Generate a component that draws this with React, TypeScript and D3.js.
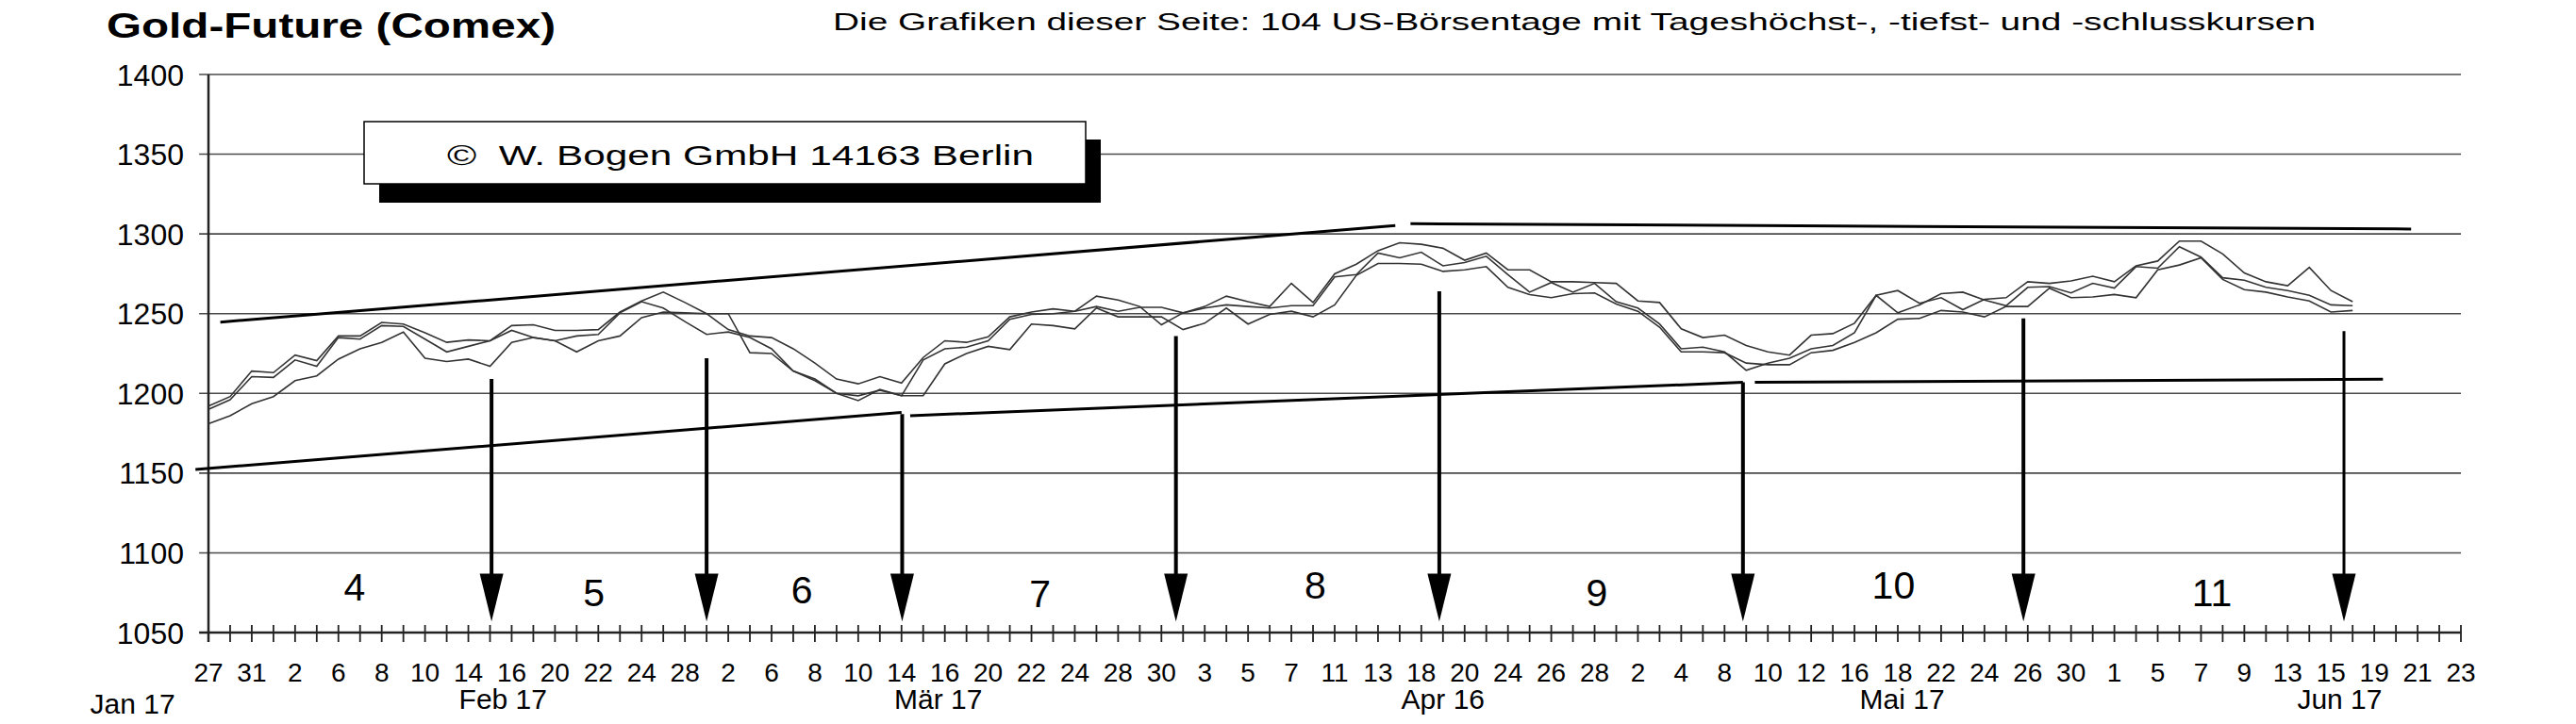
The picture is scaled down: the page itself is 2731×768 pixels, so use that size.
import React from 'react';
import * as d3 from 'd3';

const W = 2731;
const H = 768;

// trading-day index 0..104 (Jan 27 .. Jun 23, 2017)
const dayCount = 105;
const dayLabels = ["27","31","2","6","8","10","14","16","20","22","24","28","2","6","8","10","14","16","20","22","24","28","30","3","5","7","11","13","18","20","24","26","28","2","4","8","10","12","16","18","22","24","26","30","1","5","7","9","13","15","19","21","23"];
const yTicks = [1050, 1100, 1150, 1200, 1250, 1300, 1350, 1400];
const monthLabels = ["Jan 17", "Feb 17", "Mär 17", "Apr 16", "Mai 17", "Jun 17"];
const monthPos = [-3.5, 13.6, 33.7, 57, 78.2, 98.4];

const line1 = [1192,1198,1214,1213,1224,1220.5,1236,1236,1244.5,1243.5,1238,1232,1233.5,1233,1242.5,1243,1239.5,1239.5,1240,1251,1258,1263.5,1257,1250,1240,1236,1235,1228,1219,1209,1206,1210.5,1206.5,1222.5,1233,1232,1235.5,1248,1251,1253,1251.5,1261,1258.5,1254.5,1243,1250.5,1254.5,1261,1257.5,1254.5,1269,1257,1275,1281,1289.5,1294.5,1293.5,1291,1283.5,1288,1277.5,1277.5,1270,1270,1269.5,1269,1258,1257,1240.5,1235,1236.5,1230,1226,1224,1236.5,1237.5,1244,1261.5,1264.5,1256.5,1260,1252.5,1259,1260,1270,1269,1270.5,1273.5,1270,1280,1283,1295.5,1295.5,1287.5,1275.5,1270,1267.5,1279,1264.5,1257.5];
const line2 = [1190,1196,1210.5,1210,1221,1217,1235,1234,1242.5,1242,1234,1226,1229.5,1233,1239.5,1235,1233,1236,1237,1250.5,1257.5,1253.5,1245,1237,1238.5,1235,1228,1214,1209,1200,1195.5,1202.5,1198.5,1221,1228,1229,1233,1246.5,1249.5,1250,1251.5,1254.5,1251.5,1254,1254,1250.5,1253.5,1255.5,1254.5,1253.5,1255,1255,1273,1274.5,1288,1285,1288.5,1280,1282,1286,1274.5,1263.5,1269.5,1263.5,1269,1257.5,1253.5,1243.5,1228,1229,1226,1214.5,1219,1222,1228,1230,1238,1261.5,1250.5,1255.5,1262.5,1263.5,1258.5,1255,1266.5,1267,1263,1269,1266,1279.5,1278.5,1292,1285.5,1272.5,1271,1266.5,1264.5,1261.5,1255.5,1255];
const line3 = [1181,1186,1193.5,1198,1208,1211,1221.5,1228,1232,1238.5,1222,1220,1221.5,1217,1232,1235,1233,1226,1233,1236,1247.5,1251,1250.5,1250,1250,1225.5,1225,1214,1208,1200,1198.5,1202,1198.5,1198.5,1218.5,1225,1229.5,1227.5,1243.5,1242.5,1240.5,1253.5,1248,1248,1248,1240,1244,1253.5,1243.5,1249.5,1251.5,1248,1255.5,1274,1281.5,1281.5,1281,1276.5,1277.5,1279.5,1266.5,1262,1260,1262.5,1263,1256,1251.5,1241.5,1226,1226,1225.5,1219,1218,1218,1225.5,1227,1232,1238,1246.5,1247,1252,1251,1248,1254.5,1254.5,1266,1260,1260.5,1262,1260,1277.5,1280.5,1285,1271.5,1265,1263.5,1260.5,1258,1251,1252];

// trend lines: [startIndex, startValue, endIndex, endValue]
const trendLines = [
  [0.55, 1244.7, 54.8, 1305.2],
  [55.5, 1306.4, 101.7, 1303.1],
  [-0.6, 1152.3, 32.0, 1188.0],
  [32.4, 1186.0, 70.85, 1206.9],
  [71.4, 1206.9, 100.4, 1208.9],
];

// arrows: position (day index) and start value
const arrowPos = [13.07, 23.0, 32.03, 44.67, 56.83, 70.85, 83.8, 98.6];
const arrowTop = [1209, 1222, 1187, 1236, 1264, 1207, 1247, 1239];
const arrowHeadTop = 1087;
const arrowTip = 1057;

const segLabels = ["4", "5", "6", "7", "8", "9", "10", "11"];
const segPos = [6.75, 17.8, 27.4, 38.4, 51.1, 64.1, 77.8, 92.5];
const segVal = [1070, 1066.6, 1068.3, 1066, 1071.3, 1066.8, 1071.3, 1066.8];

const FONT = "'Liberation Sans', Arial, Helvetica, sans-serif";

export default function App() {
  const x = d3.scaleLinear().domain([0, dayCount - 1]).range([221, 2609]);
  const y = d3.scaleLinear().domain([1050, 1400]).range([671, 79]);

  const lineGen = d3.line<number>().x((_, i) => x(i)).y((d) => y(d));
  const series = [line1, line2, line3];
  const days = d3.range(dayCount);

  return (
    <svg
      width={W}
      height={H}
      viewBox={`0 0 ${W} ${H}`}
      style={{ position: 'fixed', left: 0, top: 0, background: '#fff' }}
      fontFamily={FONT}
    >
      <rect x={0} y={0} width={W} height={H} fill="#fff" />

      {/* title */}
      <text x={113} y={40} fontSize={37} fontWeight="bold" textLength={476} lengthAdjust="spacingAndGlyphs">
        Gold-Future (Comex)
      </text>
      <text x={883} y={31.7} fontSize={26.5} textLength={1572} lengthAdjust="spacingAndGlyphs">
        Die Grafiken dieser Seite: 104 US-Börsentage mit Tageshöchst-, -tiefst- und -schlusskursen
      </text>

      {/* grid lines */}
      {yTicks.map((t) => (
        <line
          key={'g' + t}
          x1={x(-0.43)}
          x2={x(dayCount - 1)}
          y1={y(t)}
          y2={y(t)}
          stroke={t === 1050 ? '#222' : '#4a4a4a'}
          strokeWidth={t === 1050 ? 2.5 : 1.6}
        />
      ))}
      {yTicks.map((t) => (
        <text key={'yl' + t} x={195} y={y(t) + 11.5} fontSize={32} textAnchor="end">
          {t}
        </text>
      ))}

      {/* y axis */}
      <line x1={x(0)} x2={x(0)} y1={y(1400)} y2={681} stroke="#222" strokeWidth={2.5} />

      {/* x ticks */}
      {days.map((d) => (
        <line key={'t' + d} x1={x(d)} x2={x(d)} y1={663} y2={681} stroke="#222" strokeWidth={1.8} />
      ))}
      {dayLabels.map((l, k) => (
        <text key={'xl' + k} x={x(k * 2)} y={723} fontSize={28} textAnchor="middle">
          {l}
        </text>
      ))}
      {monthLabels.map((m, k) => (
        <text key={'m' + k} x={x(monthPos[k])} y={k === 0 ? 757 : 752} fontSize={30} textAnchor="middle">
          {m}
        </text>
      ))}

      {/* copyright box */}
      <rect x={402} y={148} width={765} height={67} fill="#000" />
      <rect x={386} y={129} width={765} height={66} fill="#fff" stroke="#000" strokeWidth={1.5} />
      <text x={474} y={175} fontSize={29} textLength={622} lengthAdjust="spacingAndGlyphs" style={{ whiteSpace: 'pre' }}>
        {'©  W. Bogen GmbH 14163 Berlin'}
      </text>

      {/* trend lines */}
      {trendLines.map((t, k) => (
        <line key={'tr' + k} x1={x(t[0])} y1={y(t[1])} x2={x(t[2])} y2={y(t[3])} stroke="#000" strokeWidth={3} />
      ))}

      {/* price lines */}
      {series.map((s, k) => (
        <path key={'s' + k} d={lineGen(s) || ''} fill="none" stroke="#333" strokeWidth={1.6} strokeLinejoin="miter" />
      ))}

      {/* arrows */}
      {arrowPos.map((p, k) => {
        const ax = x(p);
        const yh = y(arrowHeadTop);
        const yt = y(arrowTip);
        return (
          <g key={'a' + k}>
            <line x1={ax} x2={ax} y1={y(arrowTop[k])} y2={yh + 2} stroke="#000" strokeWidth={k === arrowPos.length - 1 ? 3 : 4} />
            <polygon points={`${ax - 12.5},${yh} ${ax + 12.5},${yh} ${ax},${yt}`} fill="#000" />
          </g>
        );
      })}

      {/* segment numbers */}
      {segLabels.map((l, k) => (
        <text key={'n' + k} x={x(segPos[k])} y={y(segVal[k])} fontSize={41} textAnchor="middle">
          {l}
        </text>
      ))}
    </svg>
  );
}
